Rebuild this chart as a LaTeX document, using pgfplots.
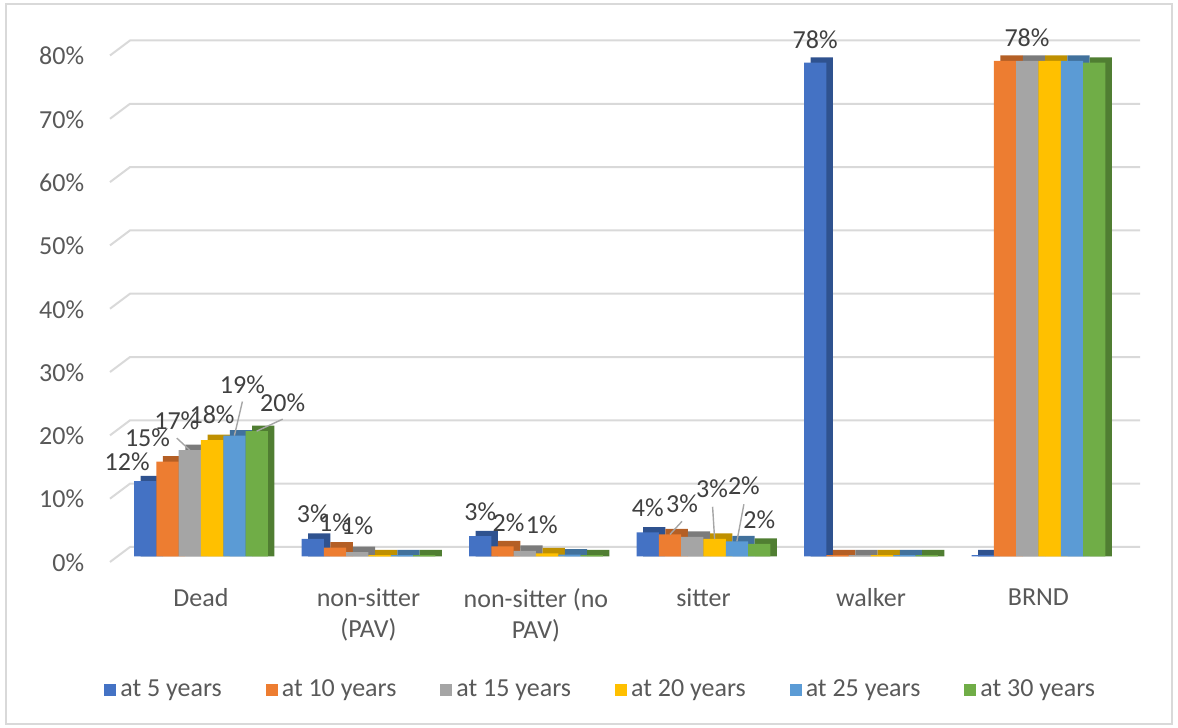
\documentclass[border=0pt]{standalone}
\usepackage{fontspec}
\setmainfont{Carlito}
\usepackage{pgfplots}
\usepackage{pgfplotstable}
\pgfplotsset{compat=1.18}
\definecolor{cA}{HTML}{4472C4}\definecolor{dA}{HTML}{2F528F}
\definecolor{cB}{HTML}{ED7D31}\definecolor{dB}{HTML}{B45F25}
\definecolor{cC}{HTML}{A5A5A5}\definecolor{dC}{HTML}{7B7B7B}
\definecolor{cD}{HTML}{FFC000}\definecolor{dD}{HTML}{BF9000}
\definecolor{cE}{HTML}{5B9BD5}\definecolor{dE}{HTML}{41719C}
\definecolor{cF}{HTML}{70AD47}\definecolor{dF}{HTML}{507E32}
\definecolor{txt}{HTML}{595959}
\definecolor{lbl}{HTML}{404040}
\definecolor{gridc}{HTML}{D9D9D9}
\definecolor{leader}{HTML}{A6A6A6}
\pgfplotstableread{
x y
0 11.9
1 2.8
2 3.2
3 3.8
4 78.0
5 0.2
}\tA
\pgfplotstableread{
x y
0 15.0
1 1.4
2 1.6
3 3.5
4 0.2
5 78.3
}\tB
\pgfplotstableread{
x y
0 16.8
1 0.7
2 0.9
3 3.1
4 0.2
5 78.3
}\tC
\pgfplotstableread{
x y
0 18.4
1 0.2
2 0.5
3 2.8
4 0.2
5 78.3
}\tD
\pgfplotstableread{
x y
0 19.1
1 0.2
2 0.3
3 2.4
4 0.2
5 78.3
}\tE
\pgfplotstableread{
x y
0 19.8
1 0.2
2 0.2
3 2.0
4 0.2
5 78.0
}\tF
% data labels: x offset (pt), y offset of text centre above bar top (pt), text
\def\LL#1#2#3{\raisebox{\dimexpr#2pt-4.3pt\relax}[0pt][0pt]{\makebox[0pt]{\kern#1pt\kern#1pt #3}}}
% same with a leader line from the bar top to (#4,#5)
\def\LLl#1#2#3#4#5{\tikz[overlay,baseline=0pt]{\draw[leader,line width=0.7pt] (0pt,0pt) -- (#4pt,#5pt);}\LL{#1}{#2}{#3}}
\def\setL#1#2#3#4#5{\expandafter\def\csname L#1#2\endcsname{\LL{#3}{#4}{#5}}}
\def\setLl#1#2#3#4#5#6#7{\expandafter\def\csname L#1#2\endcsname{\LLl{#3}{#4}{#5}{#6}{#7}}}
\setL{A}{0}{-9}{9.5}{12\%}   \setL{A}{1}{0}{12.5}{3\%}  \setL{A}{2}{0}{12}{3\%}
\setL{A}{3}{0}{12.5}{4\%}    \setL{A}{4}{0}{11.5}{78\%}
\setL{B}{0}{-10}{12}{15\%}   \setL{B}{1}{0}{12.5}{1\%}  \setL{B}{2}{3}{11.5}{2\%}
\setLl{B}{3}{6}{15}{3\%}{6}{6.5}
\setL{B}{5}{11}{11.5}{78\%}
\setLl{C}{0}{-6.5}{14.5}{17\%}{-6.5}{6} \setL{C}{1}{0}{13}{1\%}   \setL{C}{2}{8.5}{13}{1\%}
\setL{D}{0}{0}{12.5}{18\%}   \setLl{D}{3}{-1.3}{25}{3\%}{-1}{16}
\setLl{E}{0}{4}{25.5}{19\%}{4}{17}   \setLl{E}{3}{3.5}{27.5}{2\%}{3.5}{18.5}
\setLl{F}{0}{13}{14}{20\%}{13}{6}    \setL{F}{3}{0}{12}{2\%}
\pgfplotsset{
  lab/.style={nodes near coords={\csname L#1\coordindex\endcsname},
    every node near coord/.append style={anchor=center}},
  % depth face of the 3-D bars: same data, 3.3pt to the right and 2.7pt (0.853 units) higher
  shade/.style={draw=none, fill=#1, forget plot},
}
\begin{document}
\fontsize{13}{15.6}\selectfont
\begin{tikzpicture}
\useasboundingbox (0,0) rectangle (589pt,364pt);
\draw[gridc, line width=0.8pt] (3pt,2pt) rectangle (586pt,362pt);
\begin{axis}[
  at={(58.6pt,85.75pt)}, anchor=south west,
  scale only axis, width=502.5pt, height=253.25pt,
  xmin=-0.5, xmax=5.5, ymin=0, ymax=80,
  clip=false,
  ybar, bar width=11.15pt,
  axis line style={draw=none},
  major tick length=0pt,
  ytick={0,10,...,80},
  yticklabel={\pgfmathprintnumber{\tick}\%},
  /pgf/number format/assume math mode=true,
  yticklabel style={text=txt, font=\fontsize{13}{15.6}\selectfont, xshift=-12pt, yshift=-3pt},
  xtick={0,1,2,3,4,5},
  xticklabels={Dead,{non-sitter\\(PAV)},{non-sitter (no\\PAV)},sitter,walker,BRND},
  xticklabel style={text=txt, font=\fontsize{13}{15.6}\selectfont, align=center, anchor=north, yshift=-11.5pt},
  every node near coord/.append style={text=lbl, font=\fontsize{13}{15.6}\selectfont, inner sep=0pt},
  legend style={at={(0.5,-0.2636)}, anchor=center, xshift=-9pt, draw=none, fill=none,
    legend columns=6, font=\fontsize{13}{15.6}\selectfont, text=txt,
    /tikz/every even column/.append style={column sep=20pt}},
  legend image code/.code={\fill[#1] (0pt,-3pt) rectangle (6pt,3pt);},
]
\foreach \v in {0,10,...,80}{
  \edef\tmp{\noexpand\draw[gridc, line width=1pt]
    ([xshift=-3.6pt,yshift=-2.75pt]axis cs:-0.5,\v) -- ([xshift=6.4pt,yshift=4.75pt]axis cs:-0.5,\v)
    -- ([xshift=8.9pt,yshift=4.75pt]axis cs:5.5,\v);}\tmp
}
\addplot[shade=dA, bar shift=-24.575pt] table[x=x,y expr=\thisrow{y}+0.853] {\tA};
\addplot[shade=dB, bar shift=-13.425pt] table[x=x,y expr=\thisrow{y}+0.853] {\tB};
\addplot[shade=dC, bar shift=-2.275pt] table[x=x,y expr=\thisrow{y}+0.853] {\tC};
\addplot[shade=dD, bar shift=8.875pt] table[x=x,y expr=\thisrow{y}+0.853] {\tD};
\addplot[shade=dE, bar shift=20.025pt] table[x=x,y expr=\thisrow{y}+0.853] {\tE};
\addplot[shade=dF, bar shift=31.175pt] table[x=x,y expr=\thisrow{y}+0.853] {\tF};
% front faces
\addplot[fill=cA, draw=none, bar shift=-27.875pt, lab=A] table[x=x,y=y] {\tA};
\addplot[fill=cB, draw=none, bar shift=-16.725pt, lab=B] table[x=x,y=y] {\tB};
\addplot[fill=cC, draw=none, bar shift=-5.575pt, lab=C] table[x=x,y=y] {\tC};
\addplot[fill=cD, draw=none, bar shift=5.575pt, lab=D] table[x=x,y=y] {\tD};
\addplot[fill=cE, draw=none, bar shift=16.725pt, lab=E] table[x=x,y=y] {\tE};
\addplot[fill=cF, draw=none, bar shift=27.875pt, lab=F] table[x=x,y=y] {\tF};
\legend{at 5 years,at 10 years,at 15 years,at 20 years,at 25 years,at 30 years}
\end{axis}
\end{tikzpicture}
\end{document}
